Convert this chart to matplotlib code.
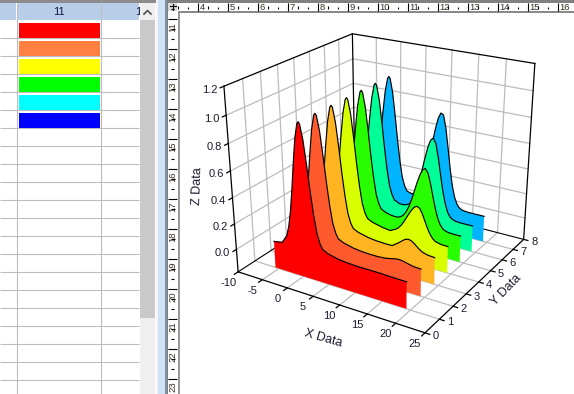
import numpy as np
import matplotlib
matplotlib.use("Agg")
import matplotlib.pyplot as plt
from matplotlib.patches import Rectangle
from mpl_toolkits.mplot3d.art3d import Poly3DCollection

plt.rcParams['font.family'] = ['Liberation Sans', 'DejaVu Sans']

W, H = 574, 394

# ---------- chart data ----------
X_VALUES = [-5.7, -4, -3, -2.5, -2, -1.5, -1, -0.5, 0, 0.25, 0.5, 1, 1.5, 2, 2.5, 3, 3.5, 4,
            5, 6, 7, 7.5, 8, 8.5, 9, 9.5, 10, 10.5, 11, 11.5, 12, 12.5, 13, 13.5, 14, 14.5,
            15, 15.5, 16, 16.5, 17, 18, 19.3]
HEAD = [.03, .043, .107, .187, .315, .488, .685, .86, .966, .98, .966, .86, .685, .49, .32, .19, .12, .08]
Z1 = HEAD + [.06, .05, .04, .038, .036, .034, .033, .032, .031, .03, .03, .03, .03, .03, .03, .03, .03, .03,
             .03, .028, .028, .027, .027, .026, .025]
Z2 = HEAD + [.06, .05, .04, .038, .035, .033, .032, .031, .03, .03, .03, .03, .032, .034, .036, .04, .045, .05,
             .054, .055, .052, .047, .042, .033, .03]
Z3 = HEAD + [.06, .05, .04, .038, .035, .033, .032, .031, .03, .03, .03, .031, .047, .061, .078, .096, .11, .115,
             .11, .096, .078, .061, .047, .034, .03]
Z4 = HEAD + [.06, .05, .04, .038, .035, .033, .045, .055, .071, .096, .128, .166, .205, .24, .268, .28, .27, .233,
             .181, .13, .088, .059, .043, .032, .03]
Z5 = HEAD + [.06, .05, .047, .052, .063, .083, .116, .163, .223, .295, .367, .43, .474, .49, .461, .387, .289, .196,
             .123, .076, .05, .038, .033, .03, .03]
Z6 = HEAD + [.06, .059, .077, .106, .148, .212, .292, .388, .484, .57, .629, .65, .612, .51, .379, .254, .158, .092,
             .057, .041, .034, .031, .03, .03, .03]
Z7 = HEAD + [.068, .085, .153, .22, .308, .416, .534, .645, .73, .775, .763, .667, .517, .358, .224, .131, .077, .049,
             .037, .033, .031, .03, .03, .03, .03]
SERIES = [Z1, Z2, Z3, Z4, Z5, Z6, Z7]
Y_VALUES = [1, 2, 3, 4, 5, 6, 7]
SERIES_COLORS = ['#ff0000', '#ff5a2d', '#ffb422', '#d8ff00', '#28ff00', '#00ff96', '#00b4ff']

X_TICKS = [-10, -5, 0, 5, 10, 15, 20, 25]
Y_TICKS = [0, 1, 2, 3, 4, 5, 6, 7, 8]
Z_TICKS = [0.0, 0.2, 0.4, 0.6, 0.8, 1.0, 1.2]
X0, X1, Y0, Y1, Z0, Z1_TOP = -10, 25, 0, 8, -0.18, 1.2

SWATCHES = ['#ff0000', '#ff8040', '#ffff00', '#00ff00', '#00ffff', '#0000ff']
TOP_RULER = list(range(4, 17))
LEFT_RULER = list(range(11, 24))

fig = plt.figure(figsize=(W / 100, H / 100), dpi=100, facecolor='white')

# ---------- worksheet and rulers (pixel-scaled axes) ----------
bg = fig.add_axes([0, 0, 1, 1], zorder=0)
bg.set_xlim(0, W)
bg.set_ylim(H, 0)
bg.axis('off')

def box(x, y, w, h, c, z=1):
    bg.add_patch(Rectangle((x, y), w, h, facecolor=c, edgecolor='none', zorder=z))

box(0, 0, 156, 3, '#8c8c8c')
box(0, 3, 16, 17, '#b8cde8', 2)
box(18, 3, 83, 17, '#b8cde8', 2)
box(102, 3, 37, 17, '#b8cde8', 2)
bg.text(59, 12, '11', ha='center', va='center', fontsize=8, color='#101840', zorder=3)
bg.text(138.5, 12, '1', ha='center', va='center', fontsize=8, color='#101840', zorder=3)
for yy in range(38, 394, 18):
    bg.plot([0, 139], [yy, yy], color='#bebebe', lw=0.8, zorder=2, solid_capstyle='butt')
for xx in (16.5, 100.5):
    bg.plot([xx, xx], [3, H], color='#bebebe', lw=0.8, zorder=2, solid_capstyle='butt')
for i, c in enumerate(SWATCHES):
    box(19, 23 + 18 * i, 81, 15, c, 3)

box(140, 3, 15, 391, '#efefef', 4)
box(140, 20, 15, 298, '#c9c9c9', 4)
bg.plot([144, 147.5, 151], [14, 10.5, 14], color='#505050', lw=1.2, zorder=5)
box(156, 0, 2, H, '#f5f5f5')
box(158, 0, 7, H, '#d2e3f6')
box(165, 0, 1.5, H, '#7f92a8')
box(166.5, 0, 12, H, 'white')
box(166.5, 0, 1, H, '#808080', 4)
box(178, 11, 1.5, H, '#9a9a9a', 4)
box(166.5, 0, W, 2.5, '#808080', 4)
box(178, 11, W, 1.5, '#8a8a8a', 4)
box(168, 3, 9, 8, '#d8d8d8', 5)
bg.plot([172.5, 172.5], [3.5, 10], color='k', lw=0.8, zorder=6)
bg.plot([169.5, 175.5], [6, 6], color='k', lw=0.8, zorder=6)

for n in TOP_RULER:
    tx = 198 + 30 * (n - 4)
    bg.plot([tx, tx], [3, 11], color='k', lw=0.8, zorder=5, solid_capstyle='butt')
    bg.text(tx + 1.5, 7.5, str(n), ha='left', va='center', fontsize=6.8, color='#3a3020', zorder=5)
    for d in (-20, -10):
        bg.plot([tx + d, tx + d], [5.5 if d == -20 else 6.5, 9], color='k', lw=0.8, zorder=5,
                solid_capstyle='butt')
for n in LEFT_RULER:
    ty = 19 + 30 * (n - 11)
    bg.plot([168, 177], [ty, ty], color='k', lw=0.8, zorder=5, solid_capstyle='butt')
    bg.text(172.5, ty + 8, str(n), rotation=90, ha='center', va='center', fontsize=6.8,
            color='#3a3020', zorder=5)
    for d in (-20, -10):
        bg.plot([170.5, 174.5] if d == -20 else [171, 174], [ty + d, ty + d], color='k', lw=0.8,
                zorder=5, solid_capstyle='butt')

# ---------- 3D graph with a camera matched to the reference frame ----------
pad = (W - H) / 2
ax = fig.add_axes([0, -pad / H, 1, W / H], projection='3d', computed_zorder=False, zorder=2)
ax.set_axis_off()
ax.patch.set_alpha(0)

# Frame landmarks used to calibrate the camera: data corner -> pixel
CAMERA = [
    (-10, 0, Z0, 238, 271), (25, 0, Z0, 425, 333), (25, 8, Z0, 524, 239),
    (-10, 0, Z1_TOP, 224, 86), (-10, 8, Z1_TOP, 352, 33), (25, 8, Z1_TOP, 535, 63),
    (-10, 0, 1.0, 226, 115), (-10, 0, 0.8, 229, 144), (-10, 0, 0.0, 236, 250),
    (-10, 8, 1.0, 353, 59), (-10, 8, 0.8, 353.5, 84),
    (25, 8, 1.0, 533, 91), (25, 8, 0.8, 531, 118),
]
S = np.diag([0.1, 0.25, 1.0, 1.0])
rows = []
for x, y, z, u, v in CAMERA:
    q = S @ np.array([x, y, z, 1.0])
    uu, vv = u / 500, v / 500
    rows.append(list(q) + [0, 0, 0, 0] + list(-uu * q))
    rows.append([0, 0, 0, 0] + list(q) + list(-vv * q))
P = np.linalg.svd(np.array(rows))[2][-1].reshape(3, 4)
P = np.diag([500.0, 500.0, 1.0]) @ P @ S
if (P[2] @ np.array([0, 4, 0, 1.0])) < 0:
    P = -P
P = P / np.abs(P[2]).max()
a, b = ax.viewLim.intervalx
c, d = ax.viewLim.intervaly
T = np.array([[(b - a) / W, 0, a],
              [0, -(d - c) / W, c + (H + pad) * (d - c) / W],
              [0, 0, 1]])
PP = T @ P
depth = -0.5 * PP[2] + 1e-3 * np.array([0.3, 0.5, 0.7, 0.1])
M = np.vstack([PP[0], PP[1], depth, PP[2]])
ax.get_proj = lambda: M

def px(x, y, z):
    h = P @ np.array([x, y, z, 1.0])
    return h[0] / h[2], h[1] / h[2]

GRID = '#bcbcbc'
def line(xs, ys, zs, color='k', lw=0.9, z=3):
    ax.plot(xs, ys, zs, color=color, lw=lw, zorder=z, solid_capstyle='projecting')

# walls and floor grid
for zt in Z_TICKS[:-1]:
    line([X0, X0, X1], [Y0, Y1, Y1], [zt, zt, zt], GRID, 0.9, 1)
for xt in X_TICKS[1:-1]:
    line([xt, xt, xt], [Y0, Y1, Y1], [Z0, Z0, Z1_TOP], GRID, 0.9, 1)
for yt in Y_TICKS[1:-1]:
    line([X0, X0, X1], [yt, yt, yt], [Z1_TOP, Z0, Z0], GRID, 0.9, 1)

# frame
line([X0, X0, X1], [Y0, Y1, Y1], [Z1_TOP, Z1_TOP, Z1_TOP])
line([X0, X0], [Y0, Y0], [Z0, Z1_TOP])
line([X0, X0], [Y1, Y1], [Z0, Z1_TOP])
line([X1, X1], [Y1, Y1], [Z0, Z1_TOP])
line([X0, X1, X1], [Y0, Y0, Y1], [Z0, Z0, Z0])
line([X0, X0, X1], [Y0, Y1, Y1], [Z0, Z0, Z0], 'k', 0.8, 2)

# ticks and labels
TEXT = '#1a1a30'
def label(u, v, s, rot=0, size=8):
    bg.text(u, v, s, rotation=rot, rotation_mode='anchor', ha='center', va='center',
            fontsize=size, color=TEXT, zorder=8)

for xt in X_TICKS:
    line([xt, xt], [Y0, Y0 - 0.22], [Z0, Z0])
    u, v = px(xt, Y0, Z0)
    label(u - 10, v + 11, str(xt))
for yt in Y_TICKS:
    line([X1, X1 + 0.8], [yt, yt], [Z0, Z0])
    u, v = px(X1, yt, Z0)
    label(u + 10.5, v + 3, str(yt))
for zt in Z_TICKS:
    line([X0, X0], [Y0, Y0 - 0.2], [zt, zt])
    u, v = px(X0, Y0, zt)
    label(u - 14, v + 3.5, f'{zt:.1f}')
label(323, 338, 'X Data', -16, 9)
label(506, 290, 'Y Data', 46, 9)
label(198, 186, 'Z Data', 88, 9)

# waterfall ribbons, back to front
xv = np.array(X_VALUES, dtype=float)
for k in range(len(SERIES) - 1, -1, -1):
    yv = Y_VALUES[k]
    zv = np.array(SERIES[k], dtype=float)
    verts = [(x_, yv, z_) for x_, z_ in zip(xv, zv)] + [(xv[-1], yv, Z0), (xv[0], yv, Z0)]
    order = 10 + 2 * (len(SERIES) - k)
    ax.add_collection3d(Poly3DCollection([verts], facecolors=SERIES_COLORS[k], edgecolors='none',
                                         zorder=order))
    ax.plot(xv, np.full_like(xv, yv), zv, color='k', lw=0.85, zorder=order + 1)

fig.savefig('out.png', dpi=100)
